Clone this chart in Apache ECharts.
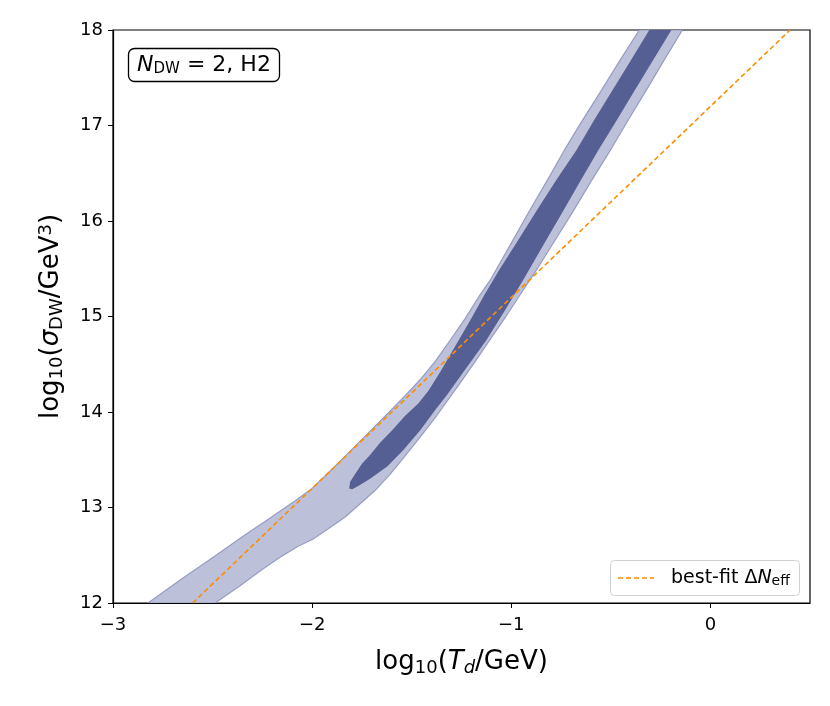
<!DOCTYPE html>
<html>
<head>
<meta charset="utf-8">
<script src="https://cdn.jsdelivr.net/npm/echarts@6/dist/echarts.min.js"></script>
<style>html,body{margin:0;padding:0;background:#fff}#c{width:830px;height:706px}</style>
</head>
<body>
<div id="c"></div>
<script>
// 2-sigma (outer) contour: left edge bottom->top, then right edge top->bottom
var outerContour = [
  [-2.824,12.00],[-2.663,12.24],[-2.497,12.48],[-2.347,12.70],[-2.211,12.89],
  [-2.085,13.07],[-2.000,13.20],[-1.910,13.38],[-1.809,13.59],[-1.709,13.80],
  [-1.608,14.01],[-1.533,14.17],[-1.457,14.34],[-1.382,14.53],[-1.307,14.75],
  [-1.231,14.98],[-1.156,15.23],[-1.106,15.38],[-1.005,15.75],[-0.905,16.12],
  [-0.804,16.48],[-0.734,16.74],[-0.653,17.02],[-0.553,17.35],[-0.452,17.69],
  [-0.357,18.00],
  [-0.141,18.00],[-0.231,17.69],[-0.322,17.37],[-0.412,17.06],[-0.503,16.74],
  [-0.598,16.42],[-0.693,16.09],[-0.789,15.77],[-0.879,15.47],[-0.955,15.23],
  [-1.030,14.99],[-1.106,14.76],[-1.181,14.53],[-1.251,14.32],[-1.317,14.13],
  [-1.382,13.94],[-1.457,13.74],[-1.533,13.54],[-1.608,13.35],[-1.683,13.18],
  [-1.759,13.04],[-1.834,12.90],[-1.910,12.79],[-1.995,12.67],[-2.075,12.59],
  [-2.161,12.48],[-2.251,12.35],[-2.362,12.18],[-2.487,12.00]
];
// 1-sigma (inner) contour
var innerContour = [
  [-1.814,13.20],[-1.809,13.27],[-1.784,13.35],[-1.749,13.46],[-1.709,13.55],
  [-1.658,13.68],[-1.598,13.81],[-1.533,13.96],[-1.467,14.09],[-1.417,14.22],
  [-1.357,14.42],[-1.281,14.69],[-1.206,14.96],[-1.131,15.24],[-1.060,15.49],
  [-0.965,15.80],[-0.869,16.12],[-0.774,16.43],[-0.673,16.74],[-0.583,17.06],
  [-0.492,17.37],[-0.397,17.69],[-0.307,18.00],
  [-0.196,18.00],[-0.286,17.69],[-0.382,17.36],[-0.472,17.05],[-0.563,16.74],
  [-0.653,16.42],[-0.749,16.07],[-0.844,15.73],[-0.935,15.40],[-1.030,15.07],
  [-1.126,14.75],[-1.226,14.46],[-1.322,14.18],[-1.382,14.02],[-1.457,13.81],
  [-1.543,13.60],[-1.623,13.43],[-1.709,13.30],[-1.764,13.23],[-1.799,13.19]
];
// best-fit Delta N_eff line
var bestFit = [[-2.60,12.0],[0.40,18.0]];
var xTicks = [-3,-2,-1,0];
var yTicks = [12,13,14,15,16,17,18];

function polySeries(pts, fill, stroke, z) {
  return {
    type: 'custom',
    coordinateSystem: 'cartesian2d',
    data: pts,
    z: z,
    silent: true,
    clip: true,
    renderItem: function (params, api) {
      if (params.dataIndex !== 0) return null;
      var p = pts.map(function (d) { return api.coord(d); });
      return {
        type: 'polygon',
        shape: { points: p, smooth: 0 },
        style: { fill: fill, stroke: stroke, lineWidth: 1.2 }
      };
    }
  };
}
function fmtMinus(v){ return String(v).replace('-', '\u2212'); }

var chart = echarts.init(document.getElementById('c'));
var F = 'DejaVu Sans';
chart.setOption({
  animation: false,
  textStyle: { fontFamily: F },
  grid: { left: 113, right: 20, top: 30, bottom: 103, show: true, borderColor: '#000', borderWidth: 1.2, backgroundColor: 'transparent' },
  xAxis: {
    type: 'value', min: -3, max: 0.5, interval: 1,
    axisLine: { onZero: false, lineStyle: { color: '#000', width: 1.2 } },
    axisTick: { customValues: xTicks, length: 5, lineStyle: { color: '#000' } },
    axisLabel: { customValues: xTicks, formatter: fmtMinus, color: '#000', fontSize: 18, margin: 13, fontFamily: F },
    splitLine: { show: false },
    name: '{a|log}{s|10}{a|(}{i|T}{si|d}{a|/GeV)}',
    nameLocation: 'middle', nameGap: 45,
    nameTextStyle: {
      rich: {
        a: { fontSize: 26, fontFamily: F, color: '#000' },
        i: { fontSize: 26, fontFamily: F, fontStyle: 'italic', color: '#000' },
        s: { fontSize: 18, fontFamily: F, color: '#000', padding: [11, 0, 0, 0] },
        si: { fontSize: 18, fontFamily: F, fontStyle: 'italic', color: '#000', padding: [11, 0, 0, 0] }
      }
    }
  },
  yAxis: {
    type: 'value', min: 12, max: 18, interval: 1,
    axisLine: { show: true, onZero: false, lineStyle: { color: '#000', width: 1.2 } },
    axisTick: { show: true, customValues: yTicks, length: 5, lineStyle: { color: '#000' } },
    axisLabel: { customValues: yTicks, color: '#000', fontSize: 18, margin: 10, fontFamily: F },
    splitLine: { show: false },
    name: '{a|log}{s|10}{a|(}{i|σ}{s|DW}{a|/GeV}{p|3}{a|)}',
    nameLocation: 'middle', nameGap: 47,
    nameTextStyle: {
      rich: {
        a: { fontSize: 26, fontFamily: F, color: '#000' },
        i: { fontSize: 26, fontFamily: F, fontStyle: 'italic', color: '#000' },
        s: { fontSize: 18, fontFamily: F, color: '#000', padding: [11, 0, 0, 0] },
        p: { fontSize: 18, fontFamily: F, color: '#000', padding: [0, 0, 11, 0] }
      }
    }
  },
  series: [
    polySeries(outerContour, '#bcc0d8', '#979dc3', 2),
    polySeries(innerContour, '#565f94', null, 3),
    {
      type: 'line', data: bestFit, symbol: 'none', z: 5, silent: true,
      lineStyle: { color: '#ff8c00', width: 1.6, type: [5, 3] }
    }
  ],
  graphic: [
    {
      type: 'rect', z: 10,
      shape: { x: 128.5, y: 48.5, width: 151, height: 33, r: 6 },
      style: { fill: '#fff', stroke: '#000', lineWidth: 1.3 }
    },
    {
      type: 'text', z: 11, x: 204, y: 65,
      style: {
        text: '{i|N}{s|DW}{a| = 2, H2}',
        align: 'center', verticalAlign: 'middle',
        rich: {
          a: { fontSize: 22, fontFamily: F, fill: '#000' },
          i: { fontSize: 22, fontFamily: F, fontStyle: 'italic', fill: '#000' },
          s: { fontSize: 15, fontFamily: F, fill: '#000', padding: [9, 0, 0, 0] }
        }
      }
    },
    {
      type: 'rect', z: 10,
      shape: { x: 610.5, y: 560.5, width: 189, height: 35, r: 4 },
      style: { fill: 'rgba(255,255,255,0.85)', stroke: '#d0d0d0', lineWidth: 1 }
    },
    {
      type: 'line', z: 11,
      shape: { x1: 618, y1: 578, x2: 654, y2: 578 },
      style: { stroke: '#ff8c00', lineWidth: 1.6, lineDash: [5, 3] }
    },
    {
      type: 'text', z: 11, x: 671, y: 578,
      style: {
        text: '{a|best-fit Δ}{i|N}{s|eff}',
        align: 'left', verticalAlign: 'middle',
        rich: {
          a: { fontSize: 19, fontFamily: F, fill: '#000' },
          i: { fontSize: 19, fontFamily: F, fontStyle: 'italic', fill: '#000' },
          s: { fontSize: 14, fontFamily: F, fill: '#000', padding: [7, 0, 0, 0] }
        }
      }
    }
  ]
});
</script>
</body>
</html>
